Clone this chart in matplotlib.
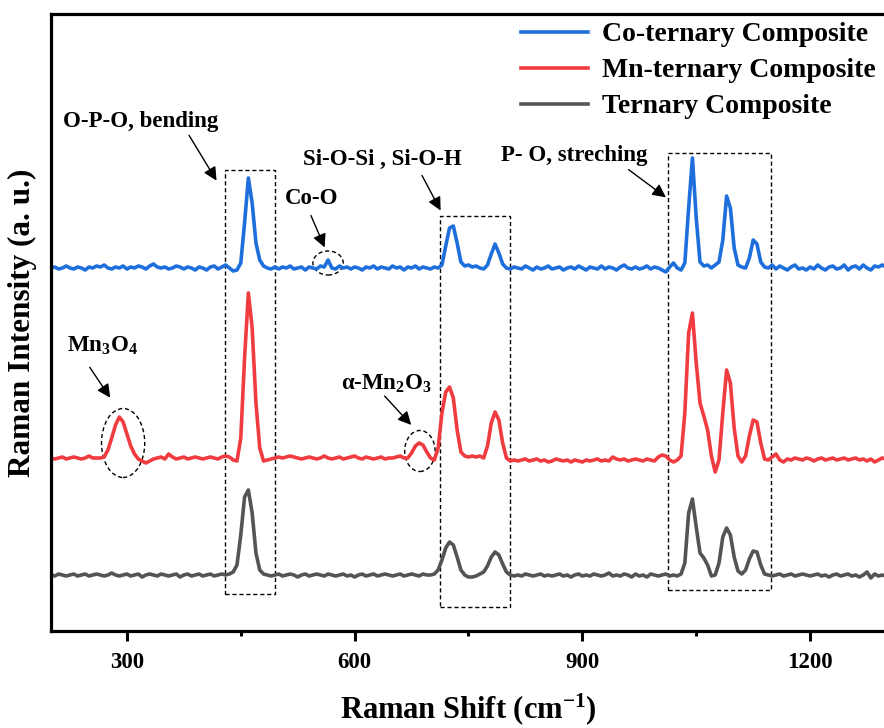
import matplotlib
matplotlib.use('Agg')
import matplotlib.pyplot as plt
from matplotlib.patches import Ellipse, Rectangle

# fonts: bold serif (Times-like), math text follows the text font
plt.rcParams['font.family'] = 'Liberation Serif'
plt.rcParams['font.weight'] = 'bold'
plt.rcParams['mathtext.fontset'] = 'custom'
plt.rcParams['mathtext.rm'] = 'Liberation Serif:bold'
plt.rcParams['mathtext.bf'] = 'Liberation Serif:bold'
plt.rcParams['mathtext.it'] = 'Liberation Serif:italic:bold'
plt.rcParams['mathtext.default'] = 'regular'

# Raman shift axis of the spectra (cm-1), one sample every 5 cm-1
shift = list(range(200, 1305, 5))

# intensities, above each trace's own baseline (a.u.), 100 cm-1 per row
co_y = [0, 1, -1, 0, 2, 0, -1, 1, 0, -2, 1, 0, 2, 1, 3, 0, -1, 1, 0, 2,
        -1, 1, 0, 2, 1, -1, 2, 4, 1, 0, 1, -1, 0, 2, 1, -1, 1, 0, -2, 1,
        0, -2, 1, 2, -1, 1, 3, 0, -3, -2, 5, 45, 90, 65, 25, 8, 2, 0, -1, 1,
        -1, 1, 0, 2, -1, 0, 1, -2, 1, 0, -1, 2, 1, 8, 0, -1, 2, 0, 1, -1,
        1, 0, -2, 1, 0, 2, -1, 1, 0, -1, 2, 0, 1, -2, 1, 0, 2, -1, 1, 0,
        -1, 1, 0, 3, 22, 40, 42, 25, 6, 2, 3, 1, 2, 0, -1, 3, 14, 24, 15, 4,
        0, -1, 1, 0, -1, 2, 0, -2, 1, -1, 0, 2, -1, 0, 1, -2, 0, 1, -1, 2,
        0, -2, 1, 0, -1, 2, -1, 1, 0, -2, 1, 3, 0, -1, 1, -1, 0, 2, -1, 1,
        0, -2, -4, 1, 5, 0, -2, 5, 60, 110, 50, 6, 2, 3, 0, 3, 6, 28, 72, 60,
        20, 3, 1, 0, 10, 28, 24, 6, 1, 0, 3, -1, 2, 0, -2, 1, 3, -1, 0, -2,
        1, -1, 3, 0, -2, 1, 2, -1, 0, 3, -2, 1, 2, -1, 3, 0, -2, 2, 1, 3,
        1]

mn_y = [0, -1, 0, 1, -1, 0, 1, 0, -1, 0, 2, 0, 0, 0, 1, 8, 20, 33, 41, 36,
        24, 12, 4, -1, -3, -5, -3, -1, 0, 1, -1, 4, 1, -1, 0, 1, -1, 0, 1, 0,
        -1, 0, 1, 0, -1, 1, 2, 1, -2, -3, 20, 100, 165, 130, 55, 10, -3, -2, -1, 0,
        1, 0, 1, 2, 1, 0, -1, 0, 1, 0, -1, 0, 2, 0, -1, 0, 1, -1, 0, 1,
        2, 0, -1, 1, 0, -1, 0, 1, -1, 0, 0, 1, 2, 0, 0, 5, 12, 15, 13, 6,
        0, -2, 10, 45, 66, 71, 60, 28, 6, 2, 1, 2, 1, 2, 0, 12, 35, 46, 38, 15,
        0, -3, -2, -3, -2, -1, -3, -2, -1, -3, -2, -4, -3, -1, -2, -3, -2, -4, -2, -3,
        -4, -2, -3, -2, -1, -3, -2, -3, 1, -1, -2, -1, -3, -2, -1, -2, -3, -1, -2, -3,
        1, 3, 2, -2, -4, -2, 2, 45, 125, 145, 95, 55, 42, 28, 2, -14, -2, 45, 88, 75,
        30, 2, -4, 2, 22, 38, 36, 15, -1, -2, 1, 4, -2, -4, -1, -2, 0, -1, -2, 0,
        -1, -3, -1, 0, -2, -1, 0, -2, -1, 0, -2, -1, 0, -2, -1, -3, -1, -4, -2, 0,
        -1]

tern_y = [0, -1, 1, 0, -1, 0, 1, -1, 0, 1, -1, 0, 1, 0, -1, 0, 2, 0, -1, 0,
          1, -1, 0, 1, -2, 0, 1, 0, -1, 1, 0, -1, 0, 1, -2, 0, 1, -1, 0, 1,
          -1, 0, 1, -1, 0, 1, 0, 1, 3, 10, 40, 78, 85, 62, 22, 5, 1, 0, -1, 0,
          1, -1, 0, 1, 0, -2, 0, 1, -1, 0, 1, 0, -1, 1, 0, -1, 0, 1, -1, 0,
          -2, 0, 1, -1, 0, 1, -1, 0, 1, 0, -1, 0, 1, -1, 0, 1, 0, -1, 1, 0,
          0, 1, 5, 15, 27, 33, 30, 18, 5, 0, -2, -2, -1, 1, 3, 9, 18, 23, 20, 11,
          3, 0, -1, 0, -1, 1, 0, -1, 0, 1, -1, 0, -1, 0, 1, -1, 0, -2, 0, 1,
          -1, 0, -1, 1, 0, -1, 0, 2, -1, 0, -1, 1, 0, -2, 1, -1, 0, -2, 1, 0,
          -1, 0, 1, -1, 0, -1, 1, 12, 62, 76, 48, 22, 17, 10, -1, 0, 12, 38, 47, 40,
          18, 4, 1, 5, 16, 24, 23, 10, 1, 0, -1, 0, 1, -1, 0, 1, -1, 0, 1, 0,
          -1, 0, 1, -1, 0, -2, 0, 1, -1, 0, 1, -1, 0, -2, 0, 3, -3, 1, -1, 0,
          -1]

labels = ['Co-ternary Composite', 'Mn-ternary Composite', 'Ternary Composite']
colors = ['#1e6fdc', '#f03c41', '#545454']
offsets = [363, 173, 56]

fig = plt.figure(figsize=(8.84, 7.28), dpi=100)
ax = fig.add_axes([51 / 884, 97 / 728, 835 / 884, 617 / 728])

for ys, lab, c, off in zip([co_y, mn_y, tern_y], labels, colors, offsets):
    ax.plot(shift, [v + off for v in ys], color=c, lw=2.6, label=lab, solid_joinstyle='round')

ax.set_xlim(200, 1300)
ax.set_ylim(0, 617)
ax.set_xticks([300, 600, 900, 1200])
ax.set_xticks([450, 750, 1050], minor=True)
ax.set_yticks([])
ax.tick_params(axis='x', which='major', direction='out', length=7, width=2.2, labelsize=16.5, pad=8)
ax.tick_params(axis='x', which='minor', direction='out', length=3.5, width=2.2)
for s in ax.spines.values():
    s.set_linewidth(2.3)

ax.set_xlabel('Raman Shift (cm$^{-1}$)', fontsize=22, fontweight='bold', labelpad=13)
ax.set_ylabel('Raman Intensity (a. u.)', fontsize=22.5, fontweight='bold', labelpad=10)

# dashed boxes around the band groups
dash = (0, (3, 2))
for x0, x1, y0, y1 in [(429, 495, 37, 461), (712, 805, 24, 415), (1013, 1148, 41, 478)]:
    ax.add_patch(Rectangle((x0, y0), x1 - x0, y1 - y0, fill=False, ec='black', lw=1.0, ls=dash))

# dashed ellipses round the small peaks
for cx, cy, w, h in [(565, 368, 40, 24), (295, 188, 57, 69), (686, 180, 40, 41)]:
    ax.add_patch(Ellipse((cx, cy), w, h, fill=False, ec='black', lw=1.0, ls=dash))

# labels with arrows
notes = [
    ('O-P-O, bending', (216, 504), (380, 498), (420, 448)),
    ('Co-O', (508, 427), (541, 418), (562, 381)),
    ('Si-O-Si , Si-O-H', (532, 466), (687, 458), (715, 418)),
    ('P- O, streching', (793, 470), (958, 463), (1013, 432)),
    ('Mn$_3$O$_4$', (221, 279), (249, 266), (280, 231)),
    (r'$\alpha$-Mn$_2$O$_3$', (582, 241), (637, 237), (677, 204)),
]
for txt, tpos, a0, a1 in notes:
    ax.text(tpos[0], tpos[1], txt, fontsize=16.5, fontweight='bold', ha='left', va='baseline')
    ax.annotate('', xy=a1, xytext=a0,
                arrowprops=dict(arrowstyle='-|>', color='black', lw=1.0, mutation_scale=20))

ax.legend(loc='upper left', bbox_to_anchor=(521 / 884, 1 - 22 / 728), bbox_transform=fig.transFigure,
          frameon=False, handlelength=2.4, handletextpad=0.5, labelspacing=0.38,
          borderpad=0, borderaxespad=0, prop={'weight': 'bold', 'size': 20})

fig.savefig('out.png', dpi=100)
